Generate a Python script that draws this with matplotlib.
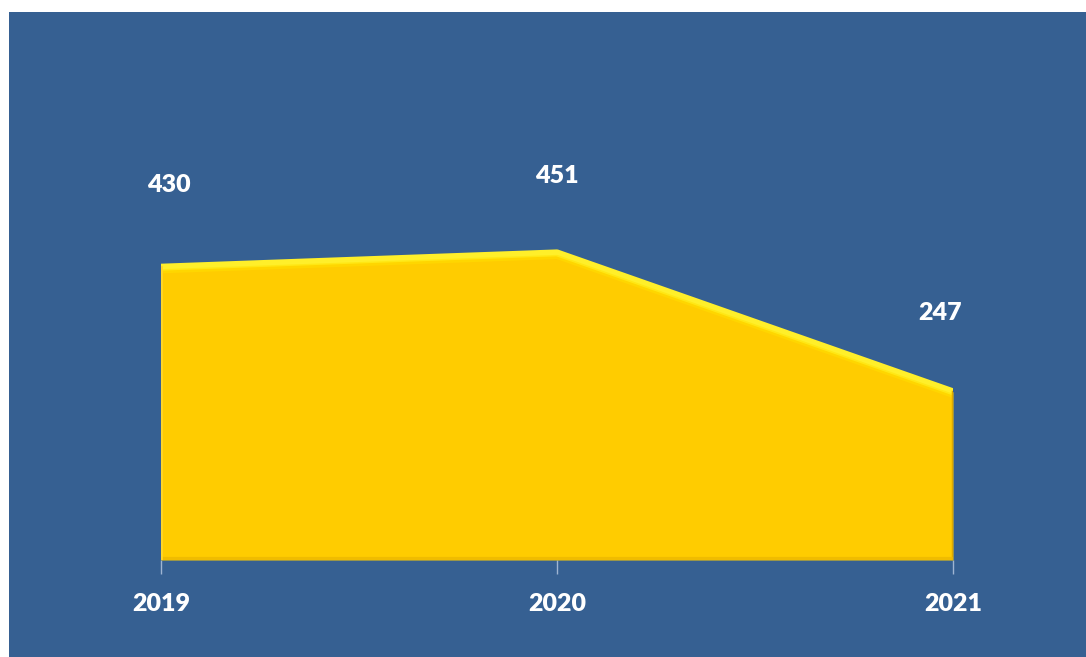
import matplotlib
matplotlib.use('Agg')
import matplotlib.pyplot as plt
from matplotlib.patches import Rectangle
import numpy as np

years = ['2019', '2020', '2021']
values = [430, 451, 247]

bg_blue = '#366092'
yellow = '#FFCC00'

W, H = 1086, 657
fig = plt.figure(figsize=(W / 100, H / 100), dpi=100)
fig.patch.set_facecolor('white')
# blue panel behind the chart (white margin at left/top)
fig.patches.append(Rectangle((9 / W, 0), 1 - 9 / W, 1 - 12 / H, transform=fig.transFigure,
                             facecolor=bg_blue, edgecolor='none', zorder=-10))

ax = fig.add_axes([161 / W, 97 / H, 792 / W, 340.5 / H])
ax.set_facecolor('none')
xs = np.arange(len(years))

# main fill
ax.fill_between(xs, 0, values, color=yellow, zorder=2, linewidth=0)
# bevel-ish edges
ax.plot(xs, values, color='#FFEF2A', lw=5, solid_capstyle='butt', zorder=3)
ax.plot(xs, np.array(values) - 6, color='#FFE000', lw=3, alpha=0.5, zorder=3)
ax.plot([xs[-1], xs[-1]], [0, values[-1]], color='#DDA800', lw=2.5, zorder=3)
ax.plot([xs[0], xs[-1]], [2, 2], color='#EDB800', lw=3, alpha=0.8, zorder=3)
ax.plot([xs[0], xs[0]], [0, values[0]], color='#FFD52A', lw=2, zorder=3)

ax.set_xlim(0, 2)
ax.set_ylim(0, 500)
for s in ax.spines.values():
    s.set_visible(False)
ax.set_yticks([])
ax.set_xticks(xs)
ax.set_xticklabels(years, fontsize=18, fontweight='heavy', color='white', family=['Lato', 'DejaVu Sans'])
ax.tick_params(axis='x', length=10, width=1, color='#9FB5D2', pad=14)

# data labels
offsets = [(6, 59), (0, 55), (-9, 57)]
for x, v, off in zip(xs, values, offsets):
    ax.annotate(str(v), (x, v), xytext=off, textcoords='offset points', ha='center', va='center',
                fontsize=18, fontweight='heavy', color='white', family=['Lato', 'DejaVu Sans'],
                annotation_clip=False)

plt.savefig('out.png', dpi=100)
